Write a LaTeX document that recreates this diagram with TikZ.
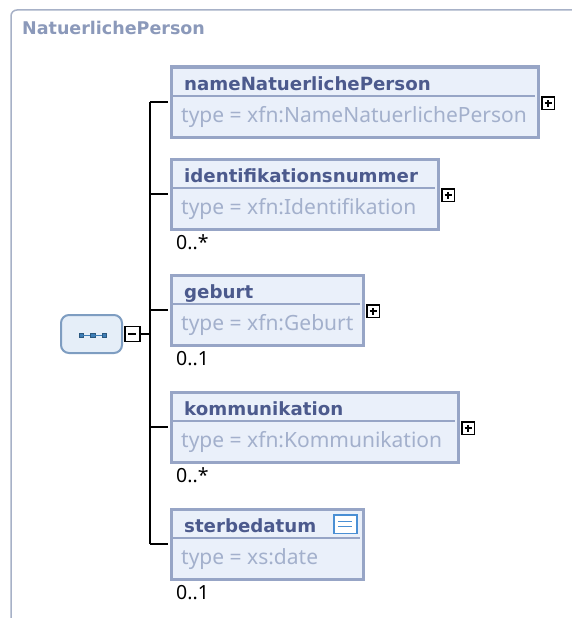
\documentclass[tikz,border=0pt]{standalone}
\usepackage{fontspec}
\setmainfont{Noto Sans}
\newfontfamily\titlefont{DejaVu Sans}
\definecolor{frameC}{HTML}{A7B1C7}
\definecolor{titleC}{HTML}{8B99BA}
\definecolor{boxBorder}{HTML}{97A5C6}
\definecolor{boxFill}{HTML}{EAF0FA}
\definecolor{headC}{HTML}{4C5A8D}
\definecolor{typeC}{HTML}{A3B0CC}
\definecolor{seqBorder}{HTML}{7E9DC1}
\definecolor{seqFill}{HTML}{E5EEF8}
\definecolor{seqIcon}{HTML}{3D7DB6}
\definecolor{iconBlue}{HTML}{4A8FD4}
\tikzset{
  elbox/.style={draw=boxBorder, fill=boxFill, line width=3pt, minimum height=70pt, anchor=north west, inner sep=0pt},
  headtxt/.style={anchor=base west, inner sep=0pt, font=\titlefont\bfseries\fontsize{18.2}{19}\selectfont, text=headC},
  typetxt/.style={anchor=base west, inner sep=0pt, font=\fontsize{21}{22}\selectfont, text=typeC},
  cardtxt/.style={anchor=base west, inner sep=0pt, font=\fontsize{19.5}{20}\selectfont, text=black},
  expbox/.style={draw=black, line width=1.5pt, fill=white, minimum size=12.5pt, inner sep=0pt, anchor=west},
  conn/.style={line width=1.5pt, draw=black},
  divider/.style={draw=boxBorder, line width=1.5pt},
  sqdot/.style={fill=seqIcon, draw=seqIcon!70!black, line width=0.4pt, minimum size=4.5pt, inner sep=0pt}
}
% #1 id, #2 outer top, #3 outer right, #4 header, #5 type
\newcommand\xelem[5]{%
  \node[elbox, minimum width={#3-171}] (#1) at (169.5,{#2+1.5}) {};
  \draw[divider] (171,{#2+32}) -- ({#3-3},{#2+32});
  \node[headtxt] (#1h) at (184,{#2+26}) {#4};
  \node[typetxt] (#1t) at (181,{#2+58}) {#5};
}
\newcommand\xplus[1]{%
  \node[expbox] (#1x) at ([xshift=1.5pt,yshift=-1pt]#1.east) {};
  \draw[line width=1.3pt] ([xshift=-3.5pt]#1x.center) -- ([xshift=3.5pt]#1x.center);
  \draw[line width=1.3pt] ([yshift=-3.5pt]#1x.center) -- ([yshift=3.5pt]#1x.center);
}
\newcommand\xcard[3]{% id, outer bottom, text
  \node[cardtxt] (#1c) at (176,{#2+20}) {#3};
}
\begin{document}
\begin{tikzpicture}[x=1pt,y=-1pt]
\useasboundingbox (0,0) rectangle (572,618);
\fill[white] (0,0) rectangle (572,618);
\draw[frameC, line width=1.5pt, rounded corners=6pt] (11,625) -- (11,10) -- (580,10);
\node[anchor=base west, inner sep=0pt, font=\titlefont\bfseries\fontsize{17.5}{18}\selectfont, text=titleC] (title) at (22,35) {NatuerlichePerson};

\coordinate (spX) at (150,0);

\xelem{b1}{64}{538}{nameNatuerlichePerson}{type = xfn:NameNatuerlichePerson}
\xplus{b1}
\xelem{b2}{156}{438}{identifikationsnummer}{type = xfn:Identifikation}
\xplus{b2}
\xcard{b2}{229}{0..*}
\xelem{b3}{272}{363}{geburt}{type = xfn:Geburt}
\xplus{b3}
\xcard{b3}{345}{0..1}
\xelem{b4}{389}{458}{kommunikation}{type = xfn:Kommunikation}
\xplus{b4}
\xcard{b4}{462}{0..*}
\xelem{b5}{506}{363}{sterbedatum}{type = xs:date}
\xcard{b5}{579}{0..1}

% simple type icon
\node[draw=iconBlue, line width=1.5pt, fill=white, minimum width=23pt, minimum height=18.5pt, inner sep=0pt, anchor=north west] (ico) at (333,514) {};
\draw[iconBlue, line width=1.3pt] ([xshift=-7pt,yshift=2.2pt]ico.center) -- ([xshift=7pt,yshift=2.2pt]ico.center);
\draw[iconBlue, line width=1.3pt] ([xshift=-7pt,yshift=-2.2pt]ico.center) -- ([xshift=7pt,yshift=-2.2pt]ico.center);

% sequence compositor
\node[draw=seqBorder, fill=seqFill, line width=2pt, rounded corners=8pt, minimum width=61pt, minimum height=38pt, inner sep=0pt, anchor=north west] (seq) at (60,314) {};
\node[expbox, minimum size=15pt] (seqx) at ([xshift=1pt]seq.east) {};
\draw[line width=1.3pt] ([xshift=-4pt]seqx.center) -- ([xshift=4pt]seqx.center);
\node[sqdot] (q1) at (81,335) {};
\node[sqdot] (q2) at (92.5,335) {};
\node[sqdot] (q3) at (104,335) {};
\draw[seqIcon, line width=0.8pt] (q1) -- (q2) (q2) -- (q3);

% connectors
\draw[conn] (seqx.east) -- (seqx.east -| spX);
\draw[conn] (b1.west -| spX) -- (b5.west -| spX);
\foreach \b in {b1,b2,b3,b4,b5}{
  \draw[conn] (\b.west -| spX) -- ([xshift=-1.5pt]\b.west);
}
\end{tikzpicture}
\end{document}
